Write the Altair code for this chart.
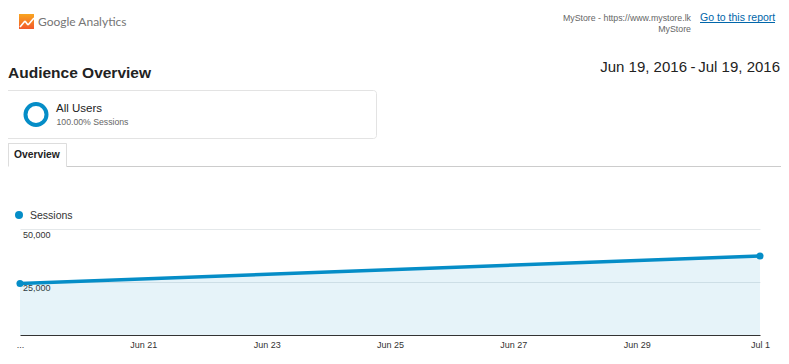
import altair as alt
import pandas as pd

days = ["...", "Jun 20", "Jun 21", "Jun 22", "Jun 23", "Jun 24", "Jun 25",
        "Jun 26", "Jun 27", "Jun 28", "Jun 29", "Jun 30", "Jul 1"]
tick_days = ["...", "Jun 21", "Jun 23", "Jun 25", "Jun 27", "Jun 29", "Jul 1"]
point_days = ["...", "Jul 1"]
sessions = [24300, 37300]
y_ticks = [25000, 50000]

BLUE = "#058dc7"
FONT = "Liberation Sans"
df = pd.DataFrame({"day": point_days, "Sessions": sessions})
one = alt.Data(values=[{}])


def px(v):
    return alt.value(v - 20)


def py(v):
    return alt.value(v - 229)


def label(text, x, y, size, color, align="left", weight="normal", font=FONT):
    return alt.Chart(one).mark_text(
        text=text, fontSize=size, color=color, align=align, baseline="middle",
        fontWeight=weight, font=font,
    ).encode(x=px(x), y=py(y))


def line_seg(x1, y1, x2, y2, color, width=1, dash=None):
    kw = {"strokeDash": dash} if dash else {}
    return alt.Chart(one).mark_rule(color=color, strokeWidth=width, **kw).encode(
        x=px(x1), x2=px(x2), y=py(y1), y2=py(y2))


def box(x1, y1, x2, y2, **kw):
    return alt.Chart(one).mark_rect(**kw).encode(
        x=px(x1), x2=px(x2), y=py(y1), y2=py(y2))


def dot(x, y, size, **kw):
    return alt.Chart(one).mark_point(**kw).encode(
        x=px(x), y=py(y), size=alt.value(size))


x_enc = alt.X("day:N", title=None,
              scale=alt.Scale(type="point", domain=days, padding=0),
              axis=alt.Axis(values=tick_days, labelAngle=0, ticks=False, grid=False,
                            domainColor="#333333", domainWidth=1.2, labelColor="#333333",
                            labelFont=FONT, labelFontSize=9, labelPadding=5,
                            labelOverlap=False, labelBound=False, labelFlush=False,
                            zindex=1))
y_enc = alt.Y("Sessions:Q", title=None,
              scale=alt.Scale(domain=[0, 50000], nice=False),
              axis=alt.Axis(values=y_ticks, format=",.0f", domain=False, ticks=False,
                            grid=True, gridColor="#e4e8ea", labelColor="#333333",
                            labelFont=FONT, labelFontSize=9, labelAlign="left",
                            labelBaseline="top", labelPadding=-2.5, labelOffset=1.5,
                            zindex=0))

base = alt.Chart(df).encode(x=x_enc, y=y_enc)
area = base.mark_area(color=BLUE, opacity=0.1)
line = base.mark_line(color=BLUE, strokeWidth=3.5)
points = base.mark_point(color=BLUE, filled=True, opacity=1, size=50)

gradient = alt.Gradient(gradient="linear", x1=0, x2=0, y1=0, y2=1,
                        stops=[alt.GradientStop(color="#f9a51f", offset=0),
                               alt.GradientStop(color="#f2592a", offset=1)])

decor = [
    box(19, 14, 34, 29, color=gradient),
    line_seg(20, 27, 25, 21, "#ffffff", 1.6),
    line_seg(25, 21, 28, 25, "#ffffff", 1.6),
    line_seg(28, 25, 34, 18, "#ffffff", 1.6),
    label("Google Analytics", 38, 22, 12, "#757575", font="Lato"),
    label("MyStore - https://www.mystore.lk", 691, 18, 8.8, "#666666", align="right"),
    label("MyStore", 691, 29, 8.8, "#666666", align="right"),
    label("Go to this report", 700, 17.5, 10.5, "#0066aa"),
    line_seg(700, 22.5, 775, 22.5, "#0066aa", 1),
    label("Jun 19, 2016", 687, 67, 15, "#222222", align="right"),
    label("-", 690.5, 67, 15, "#222222"),
    label("Jul 19, 2016", 780, 67, 15, "#222222", align="right"),
    label("Audience Overview", 8, 73, 15.5, "#222222", weight="bold"),
    box(3, 90.5, 376.5, 138.5, fill="#ffffff", stroke="#e3e3e3", cornerRadius=3),
    dot(36, 114.5, 441, filled=False, color=BLUE, strokeWidth=4, opacity=1),
    label("All Users", 56, 108.5, 11.5, "#222222"),
    label("100.00% Sessions", 56.5, 122, 8.7, "#666666"),
    line_seg(0, 166.5, 789, 166.5, "#cccccc", 1),
    box(8, 143.5, 66.5, 167, fill="#ffffff"),
    line_seg(8, 143.5, 66.5, 143.5, "#dddddd", 1),
    line_seg(8.5, 143.5, 8.5, 166.5, "#dddddd", 1),
    line_seg(66.5, 143.5, 66.5, 166.5, "#dddddd", 1),
    label("Overview", 14, 155, 10.3, "#222222", weight="bold"),
    dot(19, 215, 64, filled=True, color=BLUE, opacity=1),
    label("Sessions", 30, 215.5, 10.5, "#333333"),
]

chart = alt.layer(area, line, points, *decor).properties(
    width=740, height=106,
    padding={"left": 12, "top": 221, "right": 21, "bottom": 19},
    autosize=alt.AutoSizeParams(type="none"),
    background="#ffffff",
).configure_view(stroke=None)

chart.save("out.html", embed_options={"renderer": "svg", "actions": False})
